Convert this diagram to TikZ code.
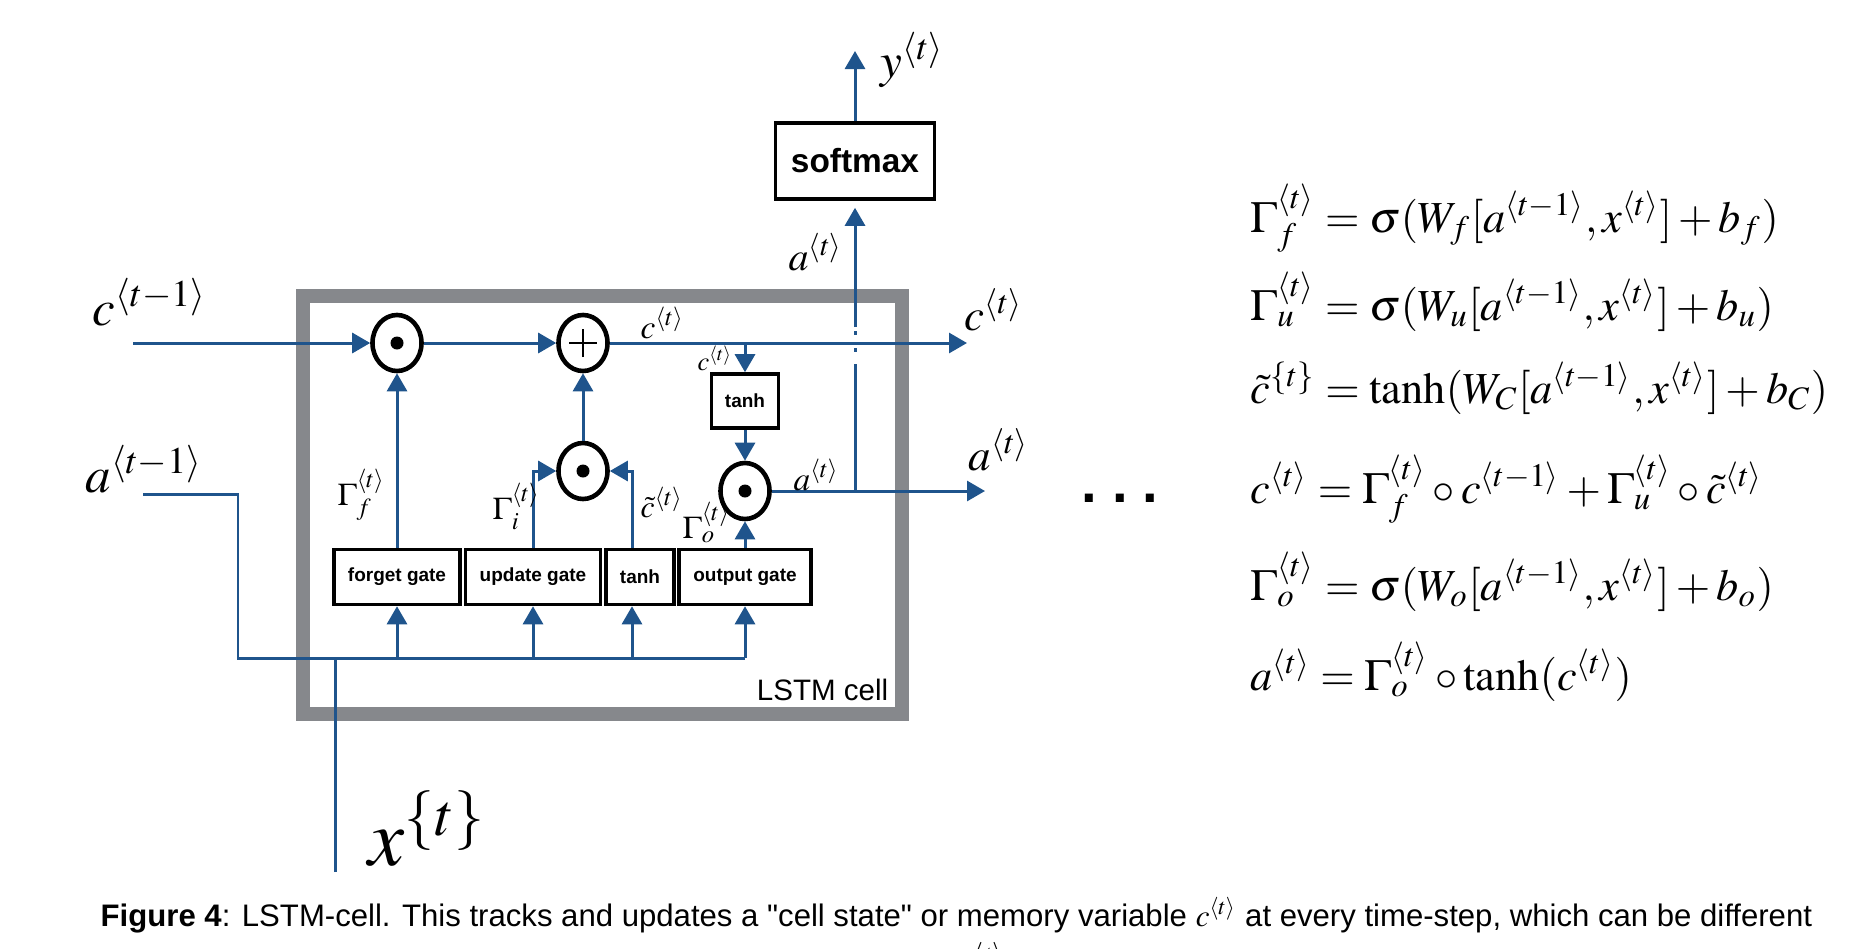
\documentclass[tikz,border=0pt]{standalone}
\usepackage{mathptmx}
\usepackage{fontspec}
\setmainfont{Liberation Serif}
\setsansfont{Liberation Sans}
\newfontfamily\capfont{Liberation Sans}
\usetikzlibrary{arrows.meta,shapes.geometric,positioning}
\definecolor{flowblue}{RGB}{31,84,140}
\definecolor{cellgray}{RGB}{134,136,140}
\newcommand\fsz[1]{\fontsize{#1}{#1}\selectfont}

\begin{document}
\begin{tikzpicture}[x=0.01cm, y=-0.01cm,
	flow/.style={draw=flowblue, line width=0.85pt},
	flowarrow/.style={-{Triangle[length=0.18cm,width=0.2cm]}},
	opnode/.style={ellipse, draw, line width=1.3pt, minimum width=0.49cm, minimum height=0.56cm, inner sep=0pt},
	dotop/.style={opnode, path picture={\fill (path picture bounding box.center) circle[radius=0.065cm];}},
	plusop/.style={opnode, path picture={\draw[line width=0.8pt] (path picture bounding box.center) +(-0.14cm,0cm) -- +(0.14cm,0cm) +(0cm,-0.14cm) -- +(0cm,0.14cm);}},
	gatebox/.style={draw, line width=1pt, minimum height=0.55cm, inner sep=0pt, font=\sffamily\bfseries\fsz{5.4}},
	lbl/.style={anchor=base west, inner sep=0pt}]

	\useasboundingbox (0,0) rectangle (1870,948);

	% the cell
	\draw[cellgray, line width=0.14cm] (303,296) rectangle (902,714);
	\node[anchor=base east, inner sep=0pt, font=\sffamily\fsz{8.4}] (celltitle) at (889,700) {LSTM cell};

	% operations
	\node[dotop] (fgmul) at (397,343) {};
	\node[plusop] (cadd) at (583,343) {};
	\node[dotop] (umul) at (583,471) {};
	\node[dotop] (omul) at (745,491) {};
	\node[gatebox, minimum width=0.67cm, minimum height=0.54cm] (tanhc) at (745,401) {tanh};

	% gates
	\node[gatebox, minimum width=1.26cm] (fgate) at (397,577) {forget gate};
	\node[gatebox, minimum width=1.35cm] (ugate) at (533,577) {update gate};
	\node[gatebox, minimum width=0.68cm] (tgate) at (640,577) {tanh};
	\node[gatebox, minimum width=1.32cm] (ogate) at (745,577) {output gate};

	\node[draw, line width=1pt, minimum width=1.59cm, minimum height=0.76cm, font=\sffamily\bfseries\fsz{9.5}] (softmax) at (855,161) {softmax};

	% ends
	\coordinate (cin) at (133,343);
	\coordinate (cout) at (967,343);
	\coordinate (ain) at (143,494);
	\coordinate (acorner) at (238,494);
	\coordinate (busL) at (238,658);
	\coordinate (aout) at (985,491);
	\coordinate (ajoin) at (855,491);
	\coordinate (hoplo) at (855,364);
	\coordinate (hophi) at (855,327);
	\coordinate (yout) at (855,51);
	\coordinate (xin) at (335,872);
	\coordinate (tgin) at ([xshift=-0.08cm]tgate.south);
	\coordinate (tgout) at ([xshift=-0.08cm]tgate.north);

	% connections
	\draw[flow,flowarrow] (cin) -- (fgmul);
	\draw[flow,flowarrow] (fgmul) -- (cadd);
	\draw[flow,flowarrow] (cadd) -- (cout);
	\draw[flow,flowarrow] (tanhc.north |- cadd) -- (tanhc);
	\draw[flow,flowarrow] (tanhc) -- (omul);
	\draw[flow,flowarrow] (omul) -- (aout);
	\draw[flow,flowarrow] (fgate) -- (fgmul);
	\draw[flow,flowarrow] (ugate.north) |- (umul);
	\draw[flow,flowarrow] (tgout) |- (umul);
	\draw[flow,flowarrow] (umul) -- (cadd);
	\draw[flow,flowarrow] (ogate) -- (omul);

	\draw[flow] (ain) -- (acorner) -- (busL) -- (ogate.south |- busL);
	\foreach \g in {fgate,ugate,ogate}
		\draw[flow,flowarrow] (\g.south |- busL) -- (\g.south);
	\draw[flow,flowarrow] (tgin |- busL) -- (tgin);
	\draw[flow] (xin) -- (xin |- busL);

	\draw[flow] (ajoin) -- (hoplo);
	\foreach \y in {348,331}
		\draw[flow] (855,\y) -- +(0,4);
	\draw[flow,flowarrow,shorten >=0.07cm] (hophi) -- (softmax);
	\draw[flow,flowarrow] (softmax) -- (yout);

	% labels
	\node[lbl, font=\fsz{14.5}] (lcprev) at (92,325) {$c^{\langle t-1\rangle}$};
	\node[lbl, font=\fsz{14.5}] (laprev) at (85,492) {$a^{\langle t-1\rangle}$};
	\node[lbl, font=\fsz{12.8}] (lcnext) at (964,330) {$c^{\langle t\rangle}$};
	\node[lbl, font=\fsz{12.8}] (lanext) at (968,470) {$a^{\langle t\rangle}$};
	\node[lbl, font=\fsz{11.4}] (laup) at (788,270) {$a^{\langle t\rangle}$};
	\node[lbl, font=\fsz{14}] (ly) at (880,77) {$y^{\langle t\rangle}$};
	\node[lbl, font=\fsz{23}] (lx) at (368,865) {$x^{\{t\}}$};
	\node[lbl, font=\fsz{9}] (lgf) at (337,505) {$\Gamma_f^{\langle t\rangle}$};
	\node[lbl, font=\fsz{9}] (lgi) at (492,519) {$\Gamma_i^{\langle t\rangle}$};
	\node[lbl, font=\fsz{9}] (lct) at (640,517) {$\tilde{c}^{\langle t\rangle}$};
	\node[lbl, font=\fsz{9}] (lgo) at (682,538) {$\Gamma_o^{\langle t\rangle}$};
	\node[lbl, font=\fsz{9.5}] (lcline) at (640,338) {$c^{\langle t\rangle}$};
	\node[lbl, font=\fsz{7.5}] (lctap) at (697,370) {$c^{\langle t\rangle}$};
	\node[lbl, font=\fsz{9.5}] (laline) at (793,490) {$a^{\langle t\rangle}$};

	\node[anchor=base, inner sep=0pt, font=\sffamily\bfseries\fsz{16}] (dots) at (1120,502) {.\hspace{0.15cm}.\hspace{0.15cm}.};

	% equations
	\node[lbl, font=\fsz{12.6}] (eqf) at (1250,232) {$\Gamma_f^{\langle t\rangle}=\sigma(W_f[a^{\langle t-1\rangle},x^{\langle t\rangle}]+b_f)$};
	\node[lbl, font=\fsz{12.6}] (equ) at (1250,320) {$\Gamma_u^{\langle t\rangle}=\sigma(W_u[a^{\langle t-1\rangle},x^{\langle t\rangle}]+b_u)$};
	\node[lbl, font=\fsz{12.6}] (eqc) at (1250,403) {$\tilde{c}^{\{t\}}=\tanh(W_C[a^{\langle t-1\rangle},x^{\langle t\rangle}]+b_C)$};
	\node[lbl, font=\fsz{12.6}] (eqs) at (1250,503) {$c^{\langle t\rangle}=\Gamma_f^{\langle t\rangle}\circ c^{\langle t-1\rangle}+\Gamma_u^{\langle t\rangle}\circ\tilde{c}^{\langle t\rangle}$};
	\node[lbl, font=\fsz{12.6}] (eqo) at (1250,600) {$\Gamma_o^{\langle t\rangle}=\sigma(W_o[a^{\langle t-1\rangle},x^{\langle t\rangle}]+b_o)$};
	\node[lbl, font=\fsz{12.6}] (eqa) at (1250,690) {$a^{\langle t\rangle}=\Gamma_o^{\langle t\rangle}\circ\tanh(c^{\langle t\rangle})$};

	% caption
	\node[lbl, font=\capfont\fsz{8.85}] (caption) at (100,926) {\textbf{Figure 4}: LSTM-cell. This tracks and updates a "cell state" or memory variable $c^{\langle t\rangle}$\ at every time-step, which can be different};
	\node[anchor=north west, inner sep=0pt, font=\fsz{8}] (capnext) at (972,942) {$\langle t\rangle$};
\end{tikzpicture}
\end{document}
